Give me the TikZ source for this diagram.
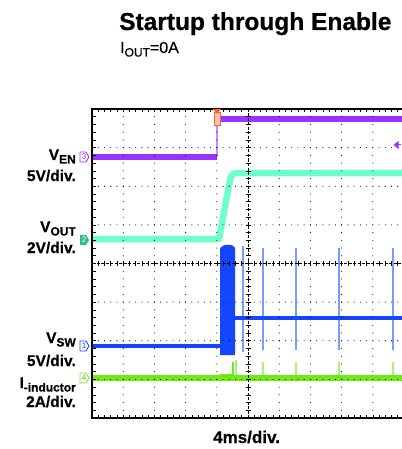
\documentclass[tikz,border=0pt]{standalone}
\usepackage{fontspec}
\setmainfont{Liberation Sans}
\newfontfamily\heavyfont{Liberation Sans Bold}[FakeBold=0.6]
\newfontfamily\midfont{Liberation Sans}[FakeBold=0.4]
\definecolor{penT}{RGB}{155,50,255}
\definecolor{penTl}{RGB}{200,140,255}
\definecolor{aquaT}{RGB}{110,255,205}
\definecolor{aquaD}{RGB}{50,190,130}
\definecolor{blueT}{RGB}{20,70,255}
\definecolor{blueL}{RGB}{120,155,255}
\definecolor{greenT}{RGB}{110,235,20}
\definecolor{greenL}{RGB}{170,245,110}
\definecolor{trigO}{RGB}{255,95,40}
\newcommand\lsub[1]{\raisebox{-3.5pt}{\fontsize{12}{12}\selectfont #1}}
\tikzset{
  lbl/.style={font=\heavyfont\fontsize{15.5}{15.5}\selectfont, inner sep=0pt, anchor=base east},
  chtag/.style={line width=0.8pt, inner sep=0pt},
}
\begin{document}
\begin{tikzpicture}[x=1pt,y=-1pt]
\useasboundingbox (0,0) rectangle (401,449);
% ---------- traces ----------
% I inductor
\draw[greenL, line width=1.2pt] (236,378) -- (236,360);
\foreach \xx in {263,296,339,393} \draw[greenL, line width=1.2pt] (\xx,378) -- (\xx,362);
\fill[greenT] (220,374) rectangle (234,381);
\draw[greenT, line width=1.5pt] (233,378) -- (233,362);
\draw[greenT, line width=5.5pt] (92,378) -- (404,378);
% VSW
\foreach \xx in {263,296,339,393} \draw[blueL, line width=1.4pt] (\xx,248) -- (\xx,350);
\draw[blueL, line width=1.6pt] (243,246) -- (243,352);
\draw[blueT, line width=4.5pt] (92,346) -- (221,346);
\fill[blueT] (220,249) .. controls (221,244) and (233,243) .. (235,248) -- (235,355) -- (220,355) -- cycle;
\draw[blueT, line width=4.5pt] (234,318) -- (404,318);
% VOUT
\draw[aquaT, line width=6.5pt, line join=round] (92,239) -- (219,239) -- (230,180) .. controls (231,175) and (233,173) .. (238,173) -- (404,173);
% VEN
\draw[penTl, line width=1.2pt] (217,157) -- (217,119);
\draw[penT, line width=5.5pt] (92,157) -- (217,157);
\draw[penT, line width=5.5pt] (217,119) -- (404,119);
% ---------- grid ----------
\foreach \i in {1,2,3,4,6,7,8,9} {
  \foreach \j in {1,...,39} \fill (92+\i*31.2,109+\j*7.725) circle (0.55);
}
\foreach \i in {1,2,3,5,6,7} {
  \foreach \j in {1,...,49} \fill (92+\j*6.24,109+\i*38.625) circle (0.55);
}
% center axes
\draw[line width=0.8pt, dash pattern=on 3pt off 1.5pt] (92,263.5) -- (404,263.5);
\draw[line width=0.8pt, dash pattern=on 3pt off 1.5pt] (248,109) -- (248,418);
\foreach \j in {1,...,49} \draw[line width=0.6pt] (92+\j*6.24,261) -- (92+\j*6.24,266);
\foreach \j in {1,...,39} \draw[line width=0.6pt] (245.5,109+\j*7.725) -- (250.5,109+\j*7.725);
% frame ticks
\foreach \j in {1,...,49} {
  \draw[line width=0.6pt] (92+\j*6.24,109) -- (92+\j*6.24,112.5);
  \draw[line width=0.6pt] (92+\j*6.24,418) -- (92+\j*6.24,414.5);
}
\foreach \j in {1,...,39} \draw[line width=0.6pt] (92,109+\j*7.725) -- (95.5,109+\j*7.725);
\draw[line width=2pt] (404,109) -- (92,109) -- (92,418) -- (404,418);
% ---------- markers ----------
\draw[trigO, line width=1pt, fill=trigO!35] (214,113) rectangle (220,126);
\fill[trigO] (213,109) -- (221,109) -- (217,114) -- cycle;
\fill[penT] (393.5,145) -- (398.5,141) -- (398.5,149) -- cycle;
\draw[penT, line width=1pt] (396,145) -- (401,145);
% channel tags
\draw[penT, chtag] (80,152) -- (86,152) -- (89,157) -- (86,162) -- (80,162) -- cycle;
\node[penT, font=\fontsize{8}{8}\selectfont] (tag3) at (84,157) {3};
\fill[aquaD] (80,235) -- (86,235) -- (89,240) -- (86,245) -- (80,245) -- cycle;
\node[white, font=\fontsize{8}{8}\selectfont] (tag2) at (84,240) {2};
\draw[blueT, chtag] (80,341) -- (86,341) -- (89,346) -- (86,351) -- (80,351) -- cycle;
\node[blueT, font=\fontsize{8}{8}\selectfont] (tag1) at (84,346) {1};
\draw[greenT, chtag] (80,373) -- (86,373) -- (89,378) -- (86,383) -- (80,383) -- cycle;
\node[greenT!80!black, font=\fontsize{8}{8}\selectfont] (tag4) at (84,378) {4};
% ---------- labels ----------
\node[lbl] (ven) at (76,160) {V\lsub{EN}};
\node[lbl] (vens) at (76,181) {5V/div.};
\node[lbl] (vout) at (76,232) {V\lsub{OUT}};
\node[lbl] (vouts) at (76,253) {2V/div.};
\node[lbl] (vsw) at (76,343) {V\lsub{SW}};
\node[lbl] (vsws) at (76,366) {5V/div.};
\node[lbl] (iind) at (76,388) {I\lsub{-inductor}};
\node[lbl] (iinds) at (76,407) {2A/div.};
\node[font=\heavyfont\fontsize{17}{17}\selectfont, inner sep=0pt, anchor=base west] (tdiv) at (213,443) {4ms/div.};
\node[font=\heavyfont\fontsize{24.5}{24.5}\selectfont, inner sep=0pt, anchor=base west] (title) at (119,30) {Startup through Enable};
\node[font=\midfont\fontsize{16}{16}\selectfont, inner sep=0pt, anchor=base west] (iout) at (120,53) {I\lsub{OUT}=0A};
\end{tikzpicture}
\end{document}
